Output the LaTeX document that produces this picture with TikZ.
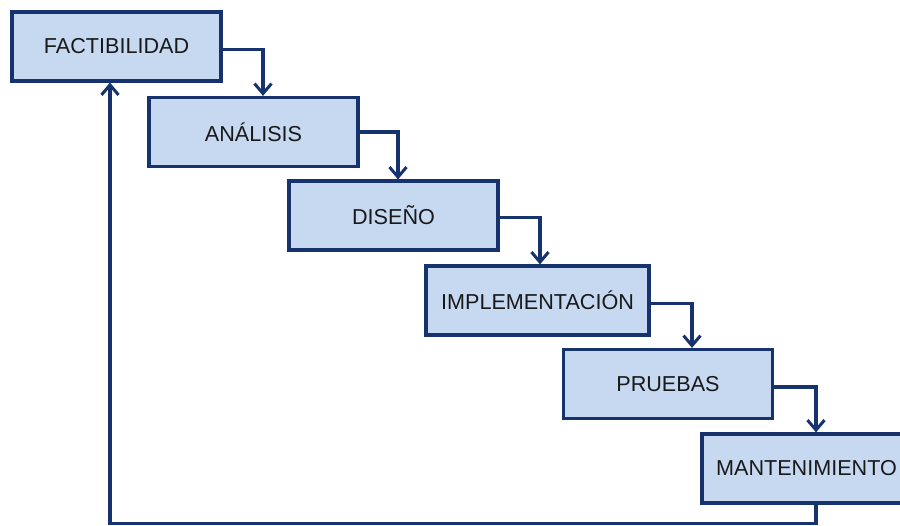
\documentclass[tikz,border=0pt]{standalone}
\usepackage{fontspec}
\setmainfont{Liberation Sans}
\usetikzlibrary{arrows.meta,calc}
\definecolor{phasefill}{RGB}{198,217,241}
\definecolor{phaseline}{RGB}{22,51,110}
\begin{document}
\begin{tikzpicture}[x=1pt,y=-1pt,
  phase/.style={draw=phaseline, line width=3.2pt, fill=phasefill,
    minimum width=209pt, minimum height=69pt, inner sep=0pt,
    font=\fontsize{21.6}{25}\selectfont, text=black!90},
  flow/.style={draw=phaseline, line width=3.2pt,
    -{Straight Barb[length=10pt,width=17pt,line width=3pt]}}]
\useasboundingbox (0,0) rectangle (900,526);
\clip (0,0) rectangle (900,526);

% waterfall stages
\node[phase] (fact) at (116.5,46.5) {FACTIBILIDAD};
\node[phase] (anal) at (253.5,132) {ANÁLISIS};
\node[phase] (dise) at (393.5,215.5) {DISEÑO};
\node[phase, minimum width=223pt] (impl) at (537.5,300.5) {IMPLEMENTACIÓN};
\node[phase] (prue) at (668,384) {PRUEBAS};
\node[phase] (mant) at (806.5,468.5) {MANTENIMIENTO};

% step-down connectors
\draw[flow] ($(fact.east)+(0,3)$) -| (263,0 |- anal.north);
\draw[flow] ($(anal.east)+(0,0)$) -| (398,0 |- dise.north);
\draw[flow] ($(dise.east)+(0,2)$) -| (540,0 |- impl.north);
\draw[flow] ($(impl.east)+(0,3)$) -| (692,0 |- prue.north);
\draw[flow] ($(prue.east)+(0,3)$) -| (816,0 |- mant.north);

% feedback loop back to the first stage
\coordinate (loopA) at (816,523.5);
\coordinate (loopB) at (110,523.5);
\draw[flow] (816,0 |- mant.south) -- (loopA) -- (loopB) -- (110,0 |- fact.south);
\end{tikzpicture}
\end{document}
